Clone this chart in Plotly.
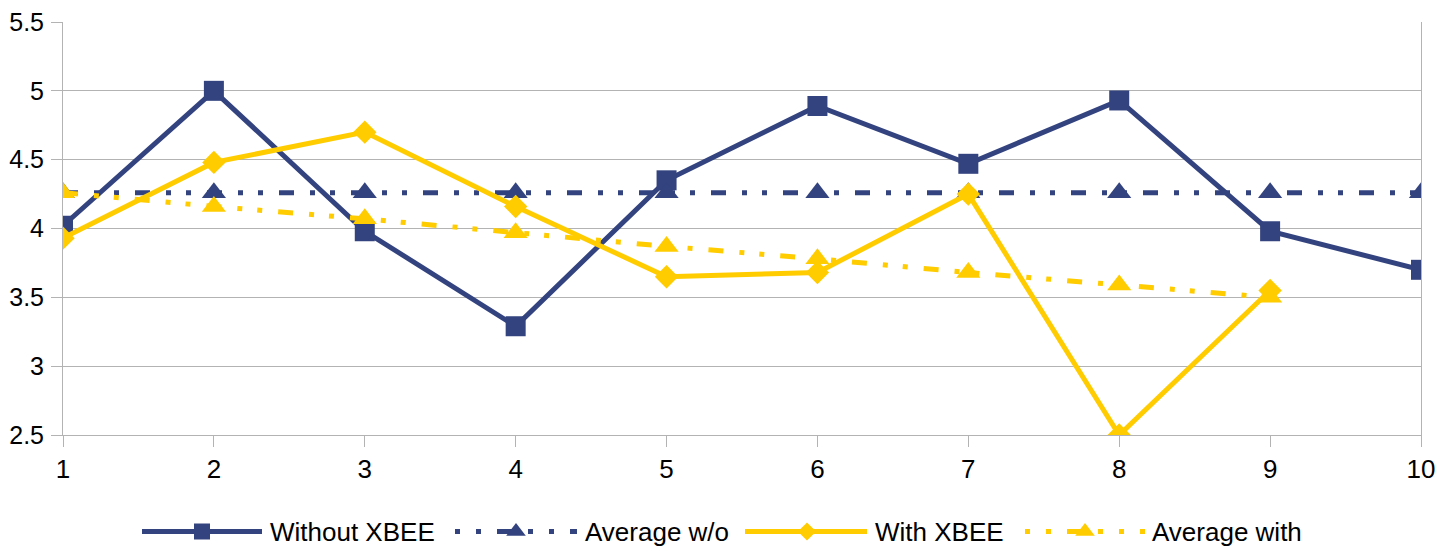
import plotly.graph_objects as go

# ---- data ----
x_vals = [1, 2, 3, 4, 5, 6, 7, 8, 9, 10]
without_xbee = [4.02, 5.00, 3.98, 3.29, 4.35, 4.89, 4.47, 4.93, 3.98, 3.70]
average_wo = [4.26, 4.26, 4.26, 4.26, 4.26, 4.26, 4.26, 4.26, 4.26, 4.26]
with_xbee = [3.93, 4.48, 4.70, 4.16, 3.65, 3.68, 4.25, 2.50, 3.55]
average_with = [4.26, 4.16, 4.07, 3.97, 3.87, 3.78, 3.68, 3.59, 3.50]
series_names = ["Without XBEE", "Average w/o", "With XBEE", "Average with"]

# ---- styles ----
NAVY = "#33437f"
GOLD = "#ffcc00"
GRID = "#b3b3b3"
FONT = "Liberation Sans, Arial, sans-serif"
DASH = "15px,16px,5px,15px,5px,16px"
LEG_DASH = "5px,16px,5px,16px,15px,16px"

# page offset of the figure (default body margin of the html page)
OFF = 8
W, H = 1455 - OFF, 548 - OFF
L, R, T = 63 - OFF, 34, 22 - OFF
PLOT_BOTTOM = 435 - OFF

styles = [
    dict(color=NAVY, dash="solid", symbol="square", size=20, leg_size=16),
    dict(color=NAVY, dash=DASH, symbol="triangle-up", size=21, leg_size=17),
    dict(color=GOLD, dash="solid", symbol="diamond", size=18, leg_size=14),
    dict(color=GOLD, dash=DASH, symbol="triangle-up", size=21, leg_size=17),
]
series_x = [x_vals, x_vals, x_vals[:9], x_vals[:9]]
series_y = [without_xbee, average_wo, with_xbee, average_with]

# legend layout (pixel positions on the page)
leg_line_x0 = [142, 455, 745, 1025]
leg_line_x1 = [262, 577, 867, 1145]
leg_marker_x = [202, 516, 807, 1085]
leg_text_x = [268, 583, 873, 1150]
leg_y = 531.5

fig = go.Figure()
for name, xs, ys, st in zip(series_names, series_x, series_y, styles):
    fig.add_trace(go.Scatter(
        x=xs, y=ys, name=name, mode="lines+markers",
        line=dict(color=st["color"], width=5, dash=st["dash"]),
        marker=dict(symbol=st["symbol"], size=st["size"], color=st["color"]),
        xaxis="x", yaxis="y", showlegend=False))

# custom legend drawn on a pixel-scaled overlay axis (page pixels)
for name, x0, x1, xm, xt, st in zip(series_names, leg_line_x0, leg_line_x1,
                                    leg_marker_x, leg_text_x, styles):
    ldash = "solid" if st["dash"] == "solid" else LEG_DASH
    fig.add_trace(go.Scatter(
        x=[x0, x1], y=[leg_y, leg_y], mode="lines",
        line=dict(color=st["color"], width=5, dash=ldash),
        xaxis="x2", yaxis="y2", showlegend=False, hoverinfo="skip"))
    fig.add_trace(go.Scatter(
        x=[xm], y=[leg_y], mode="markers",
        marker=dict(symbol=st["symbol"], size=st["leg_size"], color=st["color"]),
        xaxis="x2", yaxis="y2", showlegend=False, hoverinfo="skip"))
    fig.add_annotation(x=xt, y=leg_y, xref="x2", yref="y2", text=name,
                       showarrow=False, xanchor="left", yanchor="middle",
                       font=dict(family=FONT, size=26, color="#000000"))

plot_h = H - T
y_dom_bottom = (H - PLOT_BOTTOM) / plot_h

fig.update_layout(
    width=W, height=H,
    margin=dict(l=L, r=R, t=T, b=0, autoexpand=False),
    paper_bgcolor="white", plot_bgcolor="rgba(0,0,0,0)",
    font=dict(family=FONT, size=26, color="#000000"),
    showlegend=False,
    xaxis=dict(range=[1, 10], tickvals=x_vals, showgrid=False,
               showline=True, linecolor=GRID, linewidth=1,
               ticks="outside", ticklen=11, tickcolor=GRID, zeroline=False,
               ticklabelstandoff=0, ticklabeloverflow="allow",
               anchor="y", automargin=False, tickfont=dict(size=26)),
    yaxis=dict(range=[2.5, 5.5], dtick=0.5, tick0=2.5, domain=[y_dom_bottom, 1],
               showgrid=True, gridcolor=GRID, gridwidth=1,
               showline=True, linecolor=GRID, linewidth=1, mirror=True,
               ticks="outside", ticklen=11, tickcolor=GRID, zeroline=False,
               ticklabelstandoff=2, ticklabeloverflow="allow",
               anchor="x", automargin=False, tickfont=dict(size=25)),
    xaxis2=dict(range=[L + OFF, W - R + OFF], domain=[0, 1], anchor="y2",
                visible=False, fixedrange=True),
    yaxis2=dict(range=[H + OFF, T + OFF], domain=[0, 1], anchor="x2",
                visible=False, fixedrange=True),
)

fig.write_html("out.html")
